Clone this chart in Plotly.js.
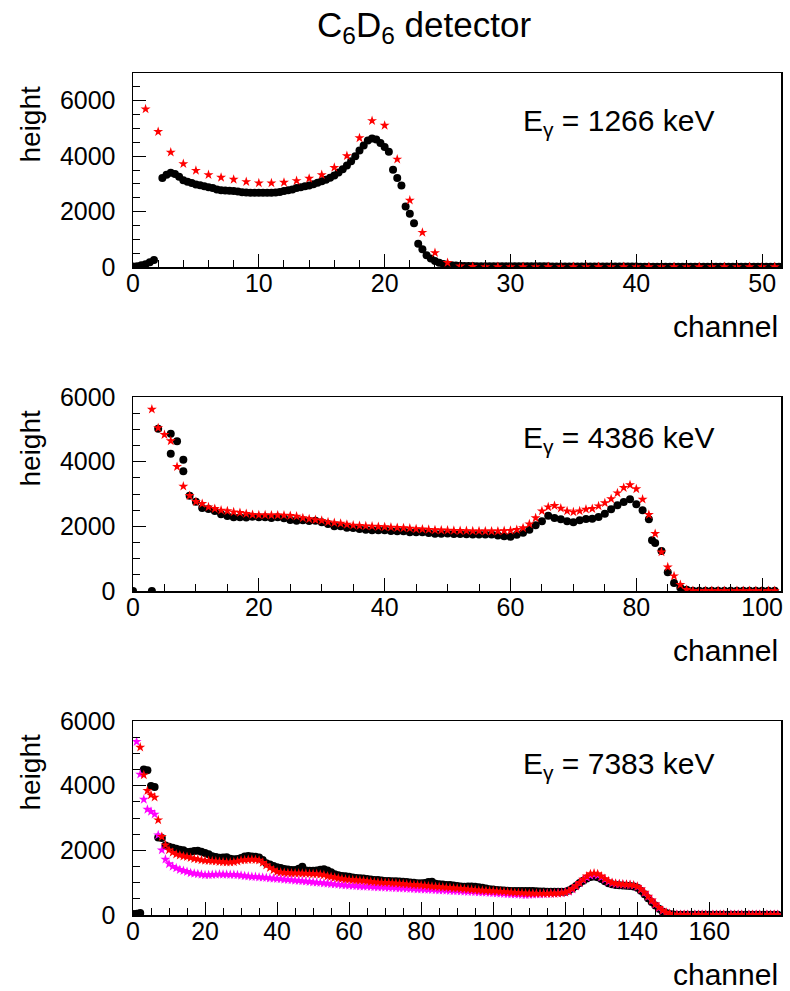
<!DOCTYPE html>
<html>
<head>
<meta charset="utf-8">
<script src="https://cdn.plot.ly/plotly-3.0.1.min.js"></script>
<style>html,body{margin:0;padding:0;background:#fff}#plot{width:790px;height:991px}</style>
</head>
<body>
<div id="plot"></div>
<script>
// ---------------- DATA ----------------
const chartTitle = "C<sub>6</sub>D<sub>6</sub> detector";
const energyLabels = ["E<sub>γ</sub> = 1266 keV", "E<sub>γ</sub> = 4386 keV", "E<sub>γ</sub> = 7383 keV"];
const xTitle = "channel";
const yTitle = "height";

// Panel 1 (1266 keV): black points every 1/3 channel from 0, red stars every channel from 1
const p1BlackStep = 1/3;
const p1Black = [
  20, 30, 60, 100, 170, 250, null, 3210, 3330, 3400,
  3360, 3260, 3130, 3080, 3030, 2980, 2950, 2910, 2880, 2850,
  2800, 2770, 2760, 2750, 2740, 2720, 2700, 2690, 2680, 2680,
  2680, 2680, 2680, 2680, 2690, 2710, 2740, 2770, 2800, 2850,
  2880, 2910, 2940, 2990, 3040, 3090, 3150, 3220, 3300, 3410,
  3530, 3660, 3820, 4000, 4200, 4380, 4560, 4640, 4600, 4470,
  4330, 4160, 3510, 3210, 2940, 2180, 1920, 1580, 840, 640,
  420, 310, 220, 150, 110, 80, 60, 50, 45, 40,
  40, 35, 30, 30, 30, 30, 30, 30, 30, 30,
  30, 30, 30, 30, 30, 30, 30, 30, 30, 30,
  20, 20, 20, 20, 20, 20, 20, 20, 20, 20,
  20, 20, 20, 20, 20, 20, 20, 20, 20, 20,
  20, 10, 10, 10, 10, 10, 10, 10, 10, 10,
  10, 10, 10, 10, 10, 10, 10, 10, 10, 10,
  10, 10, 10, 10, 10, 10, 10, 10, 10, 10,
  10, 10, 10, 10, 10
];
const p1RedStart = 1;
const p1Red = [
  5697, 4882, 4140, 3722, 3482, 3327, 3231, 3159, 3076, 3027,
  3027, 3052, 3112, 3195, 3327, 3590, 4010, 4655, 5277, 5109,
  3888, 2405, 1245, 513, 155, 30, 15, 5, 5, 5,
  5, 5, 5, 5, 5, 5, 5, 5, 5, 5,
  5, 5, 5, 5, 5, 5, 5, 5, 5, 5,
  5
];

// Panel 2 (4386 keV): black points per channel from 0 (plus a few doubled channels), red stars from 3
const p2Black = [
  0, null, null, 0, 5020, null, 4866, 4630, 4062, 2949,
  2763, 2567, 2536, 2474, 2371, 2320, 2279, 2279, 2270, 2299,
  2280, 2280, 2258, 2280, 2250, 2196, 2175, 2185, 2165, 2175,
  2124, 2072, 2000, 2000, 1959, 1950, 1918, 1897, 1876, 1876,
  1876, 1856, 1850, 1850, 1815, 1815, 1815, 1794, 1773, 1773,
  1780, 1760, 1760, 1755, 1750, 1750, 1745, 1750, 1720, 1690,
  1680, 1742, 1804, 1897, 2031, 2155, 2330, 2258, 2217, 2155,
  2124, 2186, 2227, 2237, 2289, 2392, 2526, 2650, 2753, 2835,
  2681, 2495, 2217, 1485, 1237, 577, 247, 103, 41, 10,
  10, 10, 10, 10, 10, 10, 10, 10, 10, 10,
  10, 10, 10
];
const p2BlackExtraX = [6, 8, 82.5];
const p2BlackExtraY = [4248, 3701, 1567];
const p2RedStart = 3;
const p2Red = [
  5620, 5042, 4835, 4640, 3846, 3238, 2949,
  2763, 2701, 2598, 2547, 2495, 2475, 2443, 2423, 2392, 2361,
  2350, 2350, 2345, 2345, 2340, 2330, 2310, 2260, 2230, 2200,
  2180, 2134, 2110, 2090, 2060, 2031, 2020, 2010, 2000, 1990,
  1980, 1970, 1960, 1950, 1940, 1920, 1910, 1900, 1890, 1880,
  1877, 1870, 1865, 1860, 1855, 1855, 1850, 1850, 1850, 1860,
  1870, 1897, 1949, 2072, 2258, 2474, 2598, 2640, 2557, 2474,
  2443, 2474, 2526, 2547, 2629, 2722, 2846, 3031, 3196, 3279,
  3155, 2835, 2361, 1773, 1206, 742, 464, 196, 41, 5,
  5, 5, 5, 5, 5, 5, 5, 5, 5, 5,
  5, 5, 5
];

// Panel 3 (7383 keV): three series, one value per channel from 0
const p3Black = [
  30, 40, 60, 4500, 4480, 3990, 3960, 2400, 2380, 2150,
  2112, 2080, 2050, 2020, 2000, 1950, 1960, 1980, 1990, 1960,
  1920, 1880, 1820, 1790, 1773, 1780, 1783, 1740, 1722, 1730,
  1760, 1810, 1825, 1810, 1800, 1780, 1700, 1600, 1560, 1516,
  1480, 1450, 1420, 1410, 1395, 1392, 1430, 1495, 1380, 1371,
  1370, 1380, 1400, 1413, 1380, 1320, 1260, 1230, 1210, 1200,
  1180, 1160, 1145, 1134, 1130, 1110, 1095, 1085, 1083, 1070,
  1055, 1050, 1045, 1040, 1035, 1031, 1020, 1005, 995, 985,
  979, 990, 1020, 1031, 970, 950, 940, 930, 928, 910,
  895, 880, 876, 880, 885, 876, 860, 840, 820, 800,
  785, 773, 765, 755, 748, 742, 742, 742, 742, 742,
  745, 740, 735, 730, 725, 722, 720, 718, 718, 720,
  722, 760, 820, 900, 990, 1060, 1130, 1175, 1190, 1170,
  1110, 1040, 980, 950, 930, 920, 910, 905, 900, 880,
  840, 750, 640, 520, 400, 290, 190, 110, 60, 30,
  15, 10, 10, 10, 10, 10, 10, 10, 10, 10,
  10, 10, 10, 10, 10, 10, 10, 10, 10, 10,
  10, 10, 10, 10, 10, 10, 10, 10, 10, 10
];
const p3Red = [
  null, null, 5186, 4330, 3845, 3711, 3640, 2938, 2422, 2165,
  2010, 1930, 1876, 1850, 1820, 1805, 1770, 1740, 1722, 1700,
  1685, 1680, 1670, 1660, 1650, 1640, 1630, 1629, 1640, 1660,
  1690, 1700, 1710, 1720, 1710, 1690, 1620, 1540, 1460, 1392,
  1340, 1320, 1309, 1300, 1295, 1290, 1289, 1285, 1280, 1275,
  1270, 1268, 1255, 1237, 1200, 1186, 1160, 1140, 1120, 1103,
  1095, 1085, 1075, 1068, 1062, 1045, 1030, 1020, 1012, 1005,
  1000, 995, 985, 979, 970, 960, 950, 940, 930, 928,
  920, 905, 895, 885, 876, 870, 860, 850, 840, 830,
  825, 815, 805, 795, 785, 773, 765, 758, 750, 745,
  740, 732, 725, 718, 710, 700, 691, 685, 678, 670,
  668, 666, 665, 665, 665, 665, 666, 668, 670, 680,
  700, 740, 810, 900, 1000, 1100, 1200, 1270, 1290, 1270,
  1200, 1120, 1050, 1000, 975, 960, 950, 945, 935, 920,
  880, 800, 700, 580, 460, 340, 230, 140, 80, 40,
  20, 5, 5, 5, 5, 5, 5, 5, 5, 5,
  5, 5, 5, 5, 5, 5, 5, 5, 5, 5,
  5, 5, 5, 5, 5, 5, 5, 5, 5, 5
];
const p3Magenta = [
  null, 5361, 4352, 3576, 3266, 3200, 3114, 2474, 2010, 1722,
  1578, 1500, 1450, 1400, 1371, 1340, 1300, 1285, 1270, 1250,
  1237, 1240, 1245, 1250, 1258, 1255, 1250, 1245, 1245, 1240,
  1225, 1210, 1195, 1186, 1180, 1170, 1160, 1150, 1140, 1130,
  1120, 1110, 1100, 1090, 1080, 1070, 1060, 1050, 1040, 1030,
  1015, 1005, 995, 985, 975, 960, 950, 940, 930, 920,
  910, 905, 900, 890, 885, 878, 872, 866, 860, 855,
  850, 845, 840, 835, 830, 825, 820, 815, 808, 800,
  795, 790, 785, 778, 773, 768, 762, 756, 750, 745,
  740, 735, 730, 722, 718, 712, 706, 700, 695, 690,
  682, 676, 668, 660, 652, 645, 638, 632, 626, 620,
  630, 635, 640, 645, 650, 655, 660, 665, 670, 680,
  700, 730, 800, 890, 990, 1080, 1160, 1220, 1250, 1230,
  1170, 1100, 1030, 985, 960, 950, 940, 935, 925, 910,
  870, 790, 690, 570, 450, 330, 220, 130, 70, 35,
  15, 5, 5, 5, 5, 5, 5, 5, 5, 5,
  5, 5, 5, 5, 5, 5, 5, 5, 5, 5,
  5, 5, 5, 5, 5, 5, 5, 5, 5, 5
];

// ---------------- BUILD ----------------
const W = 790, H = 991;
const FONT = "Liberation Sans, Arial, Helvetica, sans-serif";
function seq(start, step, n) { const a = []; for (let i = 0; i < n; i++) a.push(start + i * step); return a; }
const px = v => v / W;
const py = v => 1 - v / H;

const blackMarker = {symbol: 'circle', size: 8, color: '#000000'};
const redMarker = {symbol: 'star', size: 7.5, color: '#ff0000', line: {width: 0}};
const magMarker = {symbol: 'star', size: 7.5, color: '#ff00ff', line: {width: 0}};

const traces = [
  {x: seq(0, p1BlackStep, p1Black.length), y: p1Black, xaxis: 'x', yaxis: 'y', mode: 'markers', marker: blackMarker},
  {x: seq(p1RedStart, 1, p1Red.length), y: p1Red, xaxis: 'x', yaxis: 'y', mode: 'markers', marker: redMarker},
  {x: seq(0, 1, p2Black.length).concat(p2BlackExtraX), y: p2Black.concat(p2BlackExtraY), xaxis: 'x2', yaxis: 'y2', mode: 'markers', marker: blackMarker},
  {x: seq(p2RedStart, 1, p2Red.length), y: p2Red, xaxis: 'x2', yaxis: 'y2', mode: 'markers', marker: redMarker},
  {x: seq(0, 1, p3Black.length), y: p3Black, xaxis: 'x3', yaxis: 'y3', mode: 'markers', marker: blackMarker},
  {x: seq(0, 1, p3Magenta.length), y: p3Magenta, xaxis: 'x3', yaxis: 'y3', mode: 'markers', marker: magMarker},
  {x: seq(0, 1, p3Red.length), y: p3Red, xaxis: 'x3', yaxis: 'y3', mode: 'markers', marker: redMarker}
];

const panels = [
  {top: 73, bottom: 267, xr: [0, 51.5], xd: 10, xm: 2, yr: [0, 7000]},
  {top: 397, bottom: 591, xr: [0, 103], xd: 20, xm: 5, yr: [0, 6000]},
  {top: 721, bottom: 915, xr: [0, 179.9], xd: 20, xm: 5, yr: [0, 6000]}
];
const eCenters = [119, 435, 761];

const layout = {
  width: W, height: H,
  margin: {l: 0, r: 0, t: 0, b: 0},
  paper_bgcolor: '#ffffff', plot_bgcolor: '#ffffff',
  showlegend: false,
  font: {family: FONT, color: '#000000'},
  annotations: [
    {text: chartTitle, x: px(424), y: py(27), xref: 'paper', yref: 'paper', xanchor: 'center', yanchor: 'middle', showarrow: false, font: {size: 35, family: FONT}}
  ]
};

panels.forEach((p, i) => {
  const n = i === 0 ? '' : String(i + 1);
  layout['xaxis' + n] = {
    domain: [px(133), px(781)], anchor: 'y' + n, range: p.xr,
    tickmode: 'linear', tick0: 0, dtick: p.xd,
    ticks: 'inside', ticklen: 13, tickwidth: 1, tickcolor: '#000',
    minor: {dtick: p.xm, ticks: 'inside', ticklen: 7, tickwidth: 1, tickcolor: '#000', showgrid: false},
    showline: true, linecolor: '#000', linewidth: 1.5, mirror: true,
    showgrid: false, zeroline: false, fixedrange: true,
    ticklabelstandoff: -7,
    tickfont: {size: 25, family: FONT, color: '#000'}
  };
  layout['yaxis' + n] = {
    domain: [py(p.bottom), py(p.top)], anchor: 'x' + n, range: p.yr,
    tickmode: 'linear', tick0: 0, dtick: 2000,
    ticks: 'inside', ticklen: 13, tickwidth: 1, tickcolor: '#000',
    minor: {dtick: 500, ticks: 'inside', ticklen: 7, tickwidth: 1, tickcolor: '#000', showgrid: false},
    showline: true, linecolor: '#000', linewidth: 1.5, mirror: true,
    showgrid: false, zeroline: false, fixedrange: true,
    ticklabelstandoff: 11,
    tickfont: {size: 25, family: FONT, color: '#000'}
  };
  layout.annotations.push(
    {text: yTitle, textangle: -90, x: px(30), y: py(p.top + 11), xref: 'paper', yref: 'paper', xanchor: 'center', yanchor: 'top', showarrow: false, font: {size: 28, family: FONT}},
    {text: xTitle, x: px(780), y: py(p.bottom + 59), xref: 'paper', yref: 'paper', xanchor: 'right', yanchor: 'middle', showarrow: false, font: {size: 30, family: FONT}},
    {text: energyLabels[i], x: px(521), y: py(eCenters[i] + 4), xref: 'paper', yref: 'paper', xanchor: 'left', yanchor: 'middle', showarrow: false, font: {size: 30, family: FONT}}
  );
});

Plotly.newPlot('plot', traces, layout, {staticPlot: true, displayModeBar: false});
</script>
</body>
</html>
